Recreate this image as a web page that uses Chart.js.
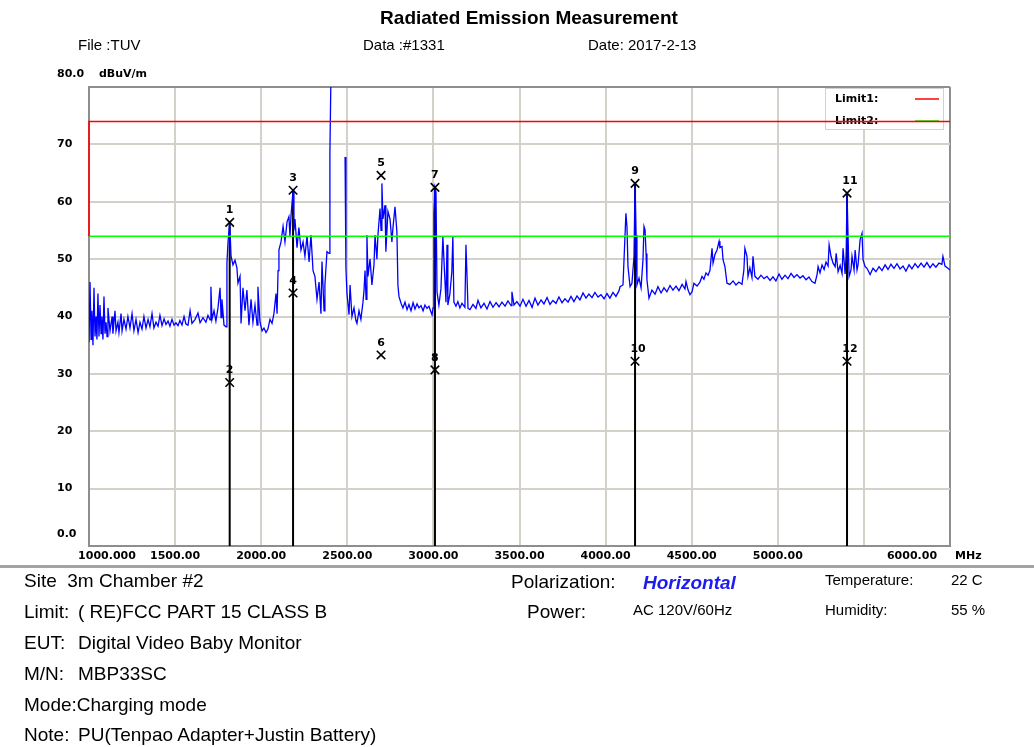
<!DOCTYPE html>
<html><head><meta charset="utf-8">
<script src="https://cdn.jsdelivr.net/npm/chart.js@4/dist/chart.umd.min.js"></script>
<style>
html,body{margin:0;padding:0;background:#fff;}
body{width:1034px;height:747px;position:relative;overflow:hidden;font-family:"Liberation Sans",Arial,sans-serif;color:#000;}
#wrap{position:absolute;left:0;top:0;width:1034px;height:747px;}
.t{position:absolute;white-space:nowrap;line-height:1;}
.f19{font-size:19px;}
.f15{font-size:15px;}
#sep{position:absolute;left:0;top:565px;width:1034px;height:3px;background:#a3a3a3;}
</style></head><body>
<div id="wrap"><canvas id="c" width="1034" height="747"></canvas></div>
<div class="t" style="left:0;width:1058px;top:8px;text-align:center;font-weight:bold;font-size:19px;">Radiated Emission Measurement</div>
<div class="t f15" style="left:78px;top:37px;">File :TUV</div>
<div class="t f15" style="left:363px;top:37px;">Data :#1331</div>
<div class="t f15" style="left:588px;top:37px;">Date: 2017-2-13</div>
<div id="sep"></div>
<div class="t f19" style="left:24px;top:571px;">Site&nbsp;&nbsp;3m Chamber #2</div>
<div class="t f19" style="left:24px;top:602px;">Limit:</div><div class="t f19" style="left:78px;top:602px;">( RE)FCC PART 15 CLASS B</div>
<div class="t f19" style="left:24px;top:633px;">EUT:</div><div class="t f19" style="left:78px;top:633px;">Digital Video Baby Monitor</div>
<div class="t f19" style="left:24px;top:664px;">M/N:</div><div class="t f19" style="left:78px;top:664px;">MBP33SC</div>
<div class="t f19" style="left:24px;top:695px;">Mode:Charging mode</div>
<div class="t f19" style="left:24px;top:725px;">Note:</div><div class="t f19" style="left:78px;top:725px;">PU(Tenpao Adapter+Justin Battery)</div>
<div class="t f19" style="left:511px;top:572px;">Polarization:</div>
<div class="t f19" style="left:643px;top:573px;font-weight:bold;font-style:italic;color:#1c1cf0;">Horizontal</div>
<div class="t f19" style="left:527px;top:602px;">Power:</div>
<div class="t f15" style="left:633px;top:602px;">AC 120V/60Hz</div>
<div class="t f15" style="left:825px;top:572px;">Temperature:</div>
<div class="t f15" style="left:951px;top:572px;">22 C</div>
<div class="t f15" style="left:825px;top:602px;">Humidity:</div>
<div class="t f15" style="left:951px;top:602px;">55 %</div>
<script>
// ---------- axis definitions ----------
const X_TICKS = [1000,1500,2000,2500,3000,3500,4000,4500,5000,5500,6000];
const X_TICK_LABELS = ['1000.000','1500.00','2000.00','2500.00','3000.00','3500.00','4000.00','4500.00','5000.00','','6000.00'];
const Y_TICKS = [0,10,20,30,40,50,60,70,80];
const Y_TICK_LABELS = ['0.0','10','20','30','40','50','60','70','80.0'];
const X_UNIT = 'MHz';
const Y_UNIT = 'dBuV/m';

// ---------- limit lines ----------
const LIMIT1_FREQ = [1000,1000,6000];
const LIMIT1_LEVEL = [54,74,74];
const LIMIT2_FREQ = [1000,6000];
const LIMIT2_LEVEL = [54,54];
const LEGEND_LABELS = ['Limit1:','Limit2:'];

// ---------- measured spectrum (MHz / dBuV/m) ----------
const SPEC_FREQ = [
 1000,1006,1012,1017,1023,1029,1035,1041,1046,1052,
 1058,1064,1070,1075,1081,1087,1093,1099,1105,1110,
 1122,1134,1139,1151,1157,1168,1174,1186,1192,1203,
 1215,1226,1238,1250,1261,1273,1285,1296,1308,1319,
 1331,1343,1354,1366,1377,1389,1401,1412,1424,1436,
 1447,1459,1470,1482,1494,1505,1517,1528,1540,1552,1563,
 1575,1587,1598,1616,1633,1645,1662,1679,1691,1703,
 1708,1714,1726,1737,1749,1761,1767,1772,1784,1796,
 1801,1807,1817,1825,1836,1848,1859,1865,1877,1883,
 1894,1906,1917,1929,1941,1952,1964,1976,1981,1993,
 2005,2016,2028,2039,2051,2063,2074,2086,2092,2098,
 2103,2115,2127,2138,2150,2161,2167,2173,2185,2190,
 2196,2208,2219,2231,2243,2254,2266,2278,2289,2301,
 2312,2324,2336,2347,2353,2365,2370,2382,2394,2399,
 2405,2446,
 2487,2492,2498,2510,2516,2527,2539,2550,2556,2568,
 2579,2591,2597,2603,2609,2614,2620,2632,2643,2655,
 2661,2672,2678,2690,2696,2701,2707,2719,2724,2736,
 2748,2759,2765,2777,2788,2794,2800,2812,2823,2835,
 2847,2858,2870,2882,2893,2905,2916,2928,2940,2951,
 2963,2974,2986,2992,2998,3003,3009,3015,3021,3032,
 3044,3055,3061,3073,3079,3084,3096,3107,3113,3119,
 3131,3142,3154,3166,3183,3189,3195,3201,3212,3230,
 3247,3259,3276,3294,3311,3329,3346,3364,3381,3398,
 3416,3433,3451,3456,3468,3485,3503,
 3520,3538,3555,3573,3590,3607,3625,3642,3660,3677,
 3694,3712,3729,3747,3764,3782,3799,3816,3834,3851,
 3869,3886,3903,3921,3938,3956,3973,3991,4008,4025,
 4043,4060,4078,4084,4101,4118,4124,4130,4142,4153,
 4165,4171,4177,4182,4194,4206,4217,4223,4229,4235,
 4240,4252,4269,4287,4304,4322,4339,4356,4374,4391,
 4409,4426,4444,4461,4467,4479,4490,4502,4513,4531,
 4548,4560,4571,4583,4595,4606,4618,4624,4635,4647,
 4659,4664,4676,4682,4693,4705,4722,4740,4757,4774,
 4792,
 4803,4809,4821,4827,4838,4850,4856,4867,4885,4902,
 4920,4937,4955,4972,4989,5007,5024,5042,5059,5077,
 5094,5111,5129,5146,5164,5181,5198,5216,5228,5234,
 5245,5257,5269,5280,5292,5298,5309,5321,5333,5339,
 5350,5362,5373,5379,5391,5397,5402,5408,5414,5425,
 5431,5443,5449,5460,5466,5478,5489,5495,5507,5518,
 5536,5553,5570,5588,5605,5623,5640,5657,5675,5692,
 5710,5727,5744,5762,5779,5797,5814,5832,5849,5866,
 5884,5901,5918,5936,5953,5959,5971,5988,6000
];
const SPEC_LEVEL = [
 35.5,46,36,41,35,45,36.5,40,36,44,
 36.5,42,37,40,36,43.5,37,39,36.5,41.5,
 37.5,40,37,41,37.5,39,37.2,40.5,37.5,39.5,
 37.8,40,38,40.5,37.5,39.5,37.2,39,37.8,40,
 38,39.5,38.2,40.5,38,39,38.3,40.2,38.4,39.6,
 38.6,39.2,38.3,39.5,38.5,38.9,38.4,39.3,38.5,40,38.7,
 38.5,41,38.8,39.5,40.6,38.9,39.8,39,40.2,39.4,
 45.2,39.5,41,39.2,41.5,45,39.8,43,38.5,38.2,
 49.3,52.8,56.4,50.5,49,49.8,48.5,45.8,47,38.8,
 45,41,44.6,38.5,43,39,42,38.5,45.2,39,
 37.5,38,37.2,37.8,39.5,38.8,40.5,44,40.5,48,
 51.6,53,55.7,53,56.5,57.4,54,57.5,62,55,
 57,52,55.5,51.6,53,50.5,54,49.5,54.2,48,
 47,43,46,40.5,49.6,41,45.5,51.3,51,68.5,
 82,null,
 67.8,48.4,44,40.3,45.5,40,41.5,39.3,38.8,41,
 39.5,42.5,44.5,48,43,54.2,47,50,45.5,49,
 54.2,50,54.2,58.8,55,63.2,57,59.4,51.3,58.3,
 57,53,55.4,59.1,54.8,45.5,43.5,42.3,41.5,42.5,
 41.2,42.1,41,42.4,41.3,42.2,41.5,41.9,41,42,
 41.4,41.8,40.8,40.3,41.5,58,62.5,61.7,44.3,42,
 44.9,53.9,50,42.5,52.5,42,44,47.8,53.9,42.5,
 41.8,42.6,41.5,42.3,41.6,52.5,47.2,41.4,41.2,42.1,
 41.4,42.8,41.5,42.3,41.3,42.6,41.6,42.4,41.7,42.5,
 41.8,42.7,41.9,44.3,42,42.6,41.8,
 43,41.8,42.8,41.6,43.2,42,42.9,42.2,43.3,42.1,
 42.8,42.3,43.4,42.4,43.1,42.5,43.5,42.6,43.6,42.9,
 44.1,43.2,43.9,43.3,44.2,43.4,43.8,43.1,44,43.2,
 44.2,43.5,44.5,45.2,45.5,58,55.7,48.7,45.2,45.8,
 50.5,63.2,54.2,45.5,46.7,45,49.9,55.7,55.1,51,
 46.4,43.2,44.6,43.9,45.2,44.1,45,44.3,45.4,44.6,
 45.3,44.5,45.6,44.8,46.1,44.6,43.8,44.3,45.8,45.3,
 46,47,46.5,47.6,47.2,48,51.9,49.3,50.8,51.6,
 53.1,52,52.2,49.9,48.7,45.8,45.6,46.2,45.5,46,
 45.6,
 48.1,51.9,50.5,47,48.5,46.8,50.5,47,46.5,47.2,
 46.6,47,46.3,46.9,46.2,47.4,46.5,47.2,46.6,47.5,
 46.8,47.3,46.7,47.1,46.4,46.9,46.1,45.8,47.3,48.7,
 47.6,49,48.2,49.5,48.8,52.5,50.5,49.3,48.7,51,
 47.8,48.9,47.5,51.9,47.4,51,61.5,54,47,48.1,
 50.5,48.1,51.6,48.1,49,53.4,54.5,49.9,48.7,48.4,
 47.3,48.4,47.8,48.7,48,49,48.2,49.1,48.4,49.2,
 48.3,48.8,47.9,49,48.3,49.2,48.5,49.3,48.6,49.4,
 48.5,49.2,48.6,49.3,49.1,50.5,48.8,48.4,48.1
];

// ---------- markers ----------
const MARKER_NO = ['1','2','3','4','5','6','7','8','9','10','11','12'];
const MARKER_FREQ = [1817,1817,2185,2185,2696,2696,3009,3009,4171,4171,5402,5402];
const MARKER_LEVEL = [56.4,28.5,62.0,44.1,64.6,33.3,62.5,30.7,63.2,32.2,61.5,32.2];
const MARKER_WITH_LINE = ['1','3','7','9','11'];

// ---------- build datasets ----------
const pts = (fs, ls) => fs.map((f, i) => ({x: f, y: ls[i]}));
const lineData = [];
MARKER_NO.forEach((n, i) => {
  if (MARKER_WITH_LINE.includes(n)) {
    lineData.push({x: MARKER_FREQ[i], y: MARKER_LEVEL[i]}, {x: MARKER_FREQ[i], y: 0}, {x: MARKER_FREQ[i], y: null});
  }
});

const GRID = '#d4d1ca', FRAME = '#8e8e8e';
const LABEL_FONT = 'bold 11px "DejaVu Sans"';

const decor = {
  id: 'decor',
  beforeDatasetsDraw(chart) {
    const {ctx, chartArea: a} = chart;
    ctx.save();
    const bx = a.right - 125, by = a.top + 1, bw = 118, bh = 41;
    ctx.fillStyle = '#fff'; ctx.fillRect(bx, by, bw, bh);
    ctx.strokeStyle = '#d2d2d2'; ctx.lineWidth = 1; ctx.strokeRect(bx + 0.5, by + 0.5, bw, bh);
    ctx.font = LABEL_FONT; ctx.textBaseline = 'middle'; ctx.textAlign = 'left';
    const cols = [chart.data.datasets[1].borderColor, chart.data.datasets[2].borderColor];
    LEGEND_LABELS.forEach((t, i) => {
      const y = by + 11 + i * 22;
      ctx.fillStyle = '#000'; ctx.fillText(t, bx + 10, y);
      ctx.strokeStyle = cols[i]; ctx.lineWidth = 1.5;
      ctx.beginPath(); ctx.moveTo(bx + 90, y); ctx.lineTo(bx + 114, y); ctx.stroke();
    });
    ctx.restore();
  },
  afterDatasetsDraw(chart) {
    const {ctx, chartArea: a, scales: {x, y}} = chart;
    ctx.save();
    ctx.font = LABEL_FONT; ctx.fillStyle = '#000'; ctx.textBaseline = 'middle';
    // marker numbers
    const meta = chart.getDatasetMeta(0);
    meta.data.forEach((p, i) => {
      const n = MARKER_NO[i];
      ctx.textAlign = 'center';
      ctx.fillText(n, p.x + (n.length > 1 ? 3 : 0), p.y - 12);
    });
    // x tick labels
    X_TICKS.forEach((v, i) => {
      let px = x.getPixelForValue(v);
      if (i === 0) px += 18;
      if (i === X_TICKS.length - 1) px -= 38;
      ctx.textAlign = 'center';
      ctx.fillText(X_TICK_LABELS[i], px, a.bottom + 10);
    });
    ctx.textAlign = 'left';
    ctx.fillText(X_UNIT, a.right + 5, a.bottom + 10);
    // y tick labels
    Y_TICKS.forEach((v, i) => {
      let py = y.getPixelForValue(v);
      if (i === 0) py -= 12;
      if (i === Y_TICKS.length - 1) py -= 13;
      ctx.fillText(Y_TICK_LABELS[i], a.left - 32, py);
    });
    ctx.fillText(Y_UNIT, a.left + 10, y.getPixelForValue(80) - 13);
    ctx.restore();
  }
};

new Chart(document.getElementById('c'), {
  type: 'line',
  data: {
    datasets: [
      {label: 'Markers', data: pts(MARKER_FREQ, MARKER_LEVEL), showLine: false, pointStyle: 'crossRot',
       pointRadius: 6, pointBorderColor: '#000', pointBorderWidth: 1.6, borderColor: '#000', order: 0},
      {label: 'Limit1', data: pts(LIMIT1_FREQ, LIMIT1_LEVEL), borderColor: '#ff0000', borderWidth: 1.6,
       pointRadius: 0, clip: {left: 4, top: 2, right: 2, bottom: 2}, order: 1},
      {label: 'Limit2', data: pts(LIMIT2_FREQ, LIMIT2_LEVEL), borderColor: '#00ff00', borderWidth: 1.6,
       pointRadius: 0, order: 2},
      {label: 'Trace', data: pts(SPEC_FREQ, SPEC_LEVEL), borderColor: '#0000ff', borderWidth: 1.3,
       pointRadius: 0, spanGaps: false, order: 3},
      {label: 'MarkerLines', data: lineData, borderColor: '#000', borderWidth: 2,
       pointRadius: 0, spanGaps: false, order: 4}
    ]
  },
  options: {
    responsive: false, animation: false, devicePixelRatio: 1,
    layout: {padding: {left: 89, top: 87, right: 84, bottom: 201}},
    elements: {line: {tension: 0}},
    plugins: {legend: {display: false}, tooltip: {enabled: false}},
    scales: {
      x: {type: 'linear', min: 1000, max: 6000,
          afterBuildTicks: s => { s.ticks = X_TICKS.map(v => ({value: v})); },
          ticks: {display: false},
          grid: {lineWidth: 2, drawTicks: false, color: c => (c.tick && c.tick.value === 6000) ? FRAME : GRID},
          border: {display: true, color: FRAME, width: 2}},
      y: {type: 'linear', min: 0, max: 80,
          afterBuildTicks: s => { s.ticks = Y_TICKS.map(v => ({value: v})); },
          ticks: {display: false},
          grid: {lineWidth: 2, drawTicks: false, color: c => (c.tick && c.tick.value === 80) ? FRAME : GRID},
          border: {display: true, color: FRAME, width: 2}}
    }
  },
  plugins: [decor]
});
</script>
</body></html>
